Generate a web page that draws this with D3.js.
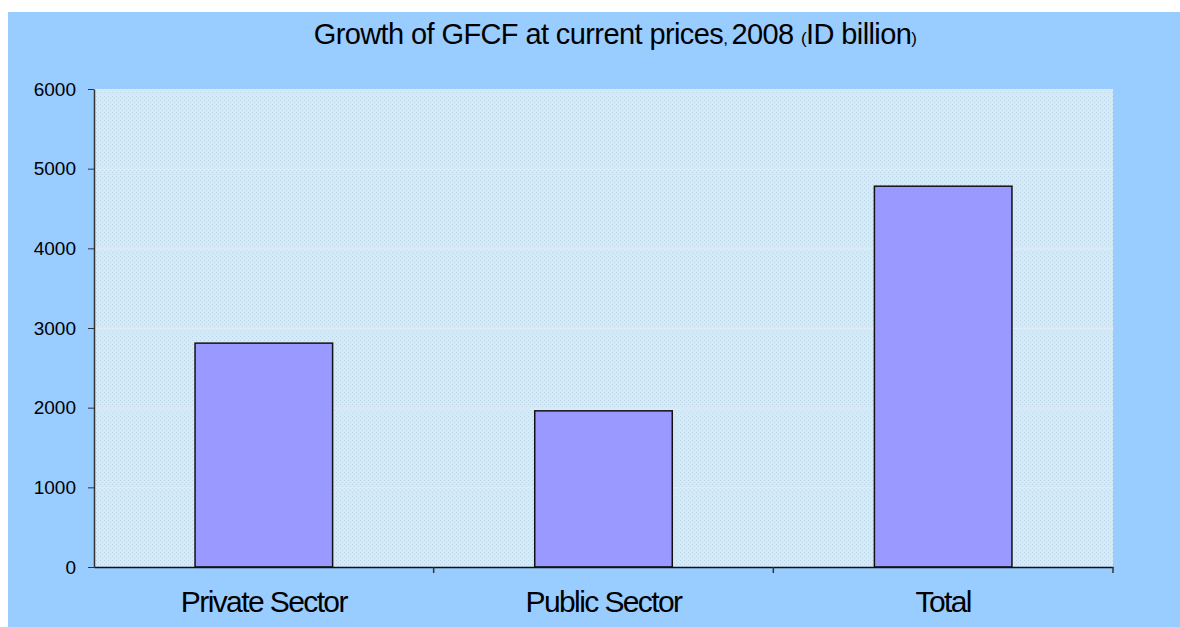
<!DOCTYPE html>
<html>
<head>
<meta charset="utf-8">
<script src="https://cdn.jsdelivr.net/npm/d3@7"></script>
<style>
  body { margin: 0; background: #fff; }
  svg { display: block; font-family: "Liberation Sans", Arial, sans-serif; }
</style>
</head>
<body>
<div id="chart"></div>
<script>
// data
const categories = ['Private Sector', 'Public Sector', 'Total'];
const values = [2810, 1960, 4780];
const yTicks = [0, 1000, 2000, 3000, 4000, 5000, 6000];

const W = 1180, H = 627;
const m = { left: 94, right: 67, top: 89, bottom: 60 };

const svg = d3.select('#chart')
  .append('svg')
  .attr('width', W)
  .attr('height', H);

// fondo azul
svg.append('rect')
  .attr('x', 8).attr('y', 12)
  .attr('width', W - 8).attr('height', H - 12)
  .attr('fill', '#99ccff');

// patron punteado del area de trazado
const defs = svg.append('defs');
const pat = defs.append('pattern')
  .attr('id', 'dots')
  .attr('width', 4).attr('height', 4)
  .attr('patternUnits', 'userSpaceOnUse');
pat.append('rect').attr('width', 4).attr('height', 4).attr('fill', '#d6eaf6');
pat.append('rect').attr('x', 0).attr('y', 0).attr('width', 1).attr('height', 1).attr('fill', '#b9d6ea');
pat.append('rect').attr('x', 2).attr('y', 2).attr('width', 1).attr('height', 1).attr('fill', '#c4dcee');

const x = d3.scaleBand()
  .domain(categories)
  .range([m.left, W - m.right])
  .padding(0);

const y = d3.scaleLinear()
  .domain([0, 6000])
  .range([H - m.bottom, m.top]);

svg.append('rect')
  .attr('x', m.left).attr('y', m.top)
  .attr('width', W - m.right - m.left)
  .attr('height', H - m.bottom - m.top)
  .attr('fill', 'url(#dots)');

// lineas de cuadricula
svg.append('g')
  .selectAll('line')
  .data(yTicks.slice(1, -1))
  .join('line')
  .attr('x1', m.left).attr('x2', W - m.right)
  .attr('y1', d => y(d) + 0.5).attr('y2', d => y(d) + 0.5)
  .attr('stroke', '#e6f2fa')
  .attr('stroke-dasharray', '1 1');

// barras
const bw = x.bandwidth() * 0.405;
svg.append('g')
  .selectAll('rect')
  .data(values)
  .join('rect')
  .attr('x', (d, i) => x(categories[i]) + (x.bandwidth() - bw) / 2)
  .attr('y', d => y(d))
  .attr('width', bw)
  .attr('height', d => y(0) - y(d))
  .attr('fill', '#9999ff')
  .attr('stroke', '#111')
  .attr('stroke-width', 1.5);

// eje y
const yAxis = svg.append('g')
  .attr('transform', `translate(${m.left},0)`)
  .call(d3.axisLeft(y).tickValues(yTicks).tickFormat(d3.format('d'))
    .tickSize(6).tickPadding(12).tickSizeOuter(0));
yAxis.select('.domain').attr('stroke', '#333').attr('stroke-width', 1.5);
yAxis.selectAll('.tick line').attr('stroke', '#333');
yAxis.selectAll('text').attr('font-size', 19).attr('fill', '#000')
  .attr('font-family', '"Liberation Sans", Arial, sans-serif');

// eje x
const xAxis = svg.append('g')
  .attr('transform', `translate(0,${y(0)})`)
  .call(d3.axisBottom(x).tickSize(0).tickPadding(24).tickSizeOuter(0));
xAxis.select('.domain').attr('stroke', '#111').attr('stroke-width', 1.5);
xAxis.selectAll('text').attr('font-size', 30).attr('fill', '#000')
  .attr('letter-spacing', '-1.6px')
  .attr('font-family', '"Liberation Sans", Arial, sans-serif');
// marcas entre categorias
svg.append('g')
  .selectAll('line')
  .data(categories)
  .join('line')
  .attr('x1', d => x(d) + x.bandwidth()).attr('x2', d => x(d) + x.bandwidth())
  .attr('y1', y(0)).attr('y2', y(0) + 6)
  .attr('stroke', '#333').attr('stroke-width', 1.5);

// titulo
const title = svg.append('text')
  .attr('x', 615).attr('y', 44)
  .attr('text-anchor', 'middle')
  .attr('font-size', 29)
  .attr('letter-spacing', '-0.6px')
  .attr('fill', '#000');
title.append('tspan').text('Growth of GFCF at current prices');
title.append('tspan').attr('font-size', 17).text(', ');
title.append('tspan').text('2008 ');
title.append('tspan').attr('font-size', 17).text('(');
title.append('tspan').text('ID billion');
title.append('tspan').attr('font-size', 17).text(')');
</script>
</body>
</html>
